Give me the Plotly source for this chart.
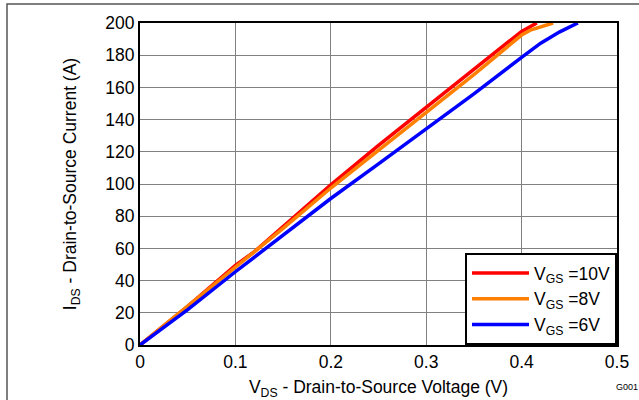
import plotly.graph_objects as go

vds_10 = [0, 0.05, 0.1, 0.12, 0.15, 0.2, 0.25, 0.3, 0.35, 0.4, 0.416]
ids_10 = [0, 24, 49.5, 58, 73.5, 99.5, 124, 147.5, 171, 194.8, 200]

vds_8 = [0, 0.05, 0.1, 0.15, 0.2, 0.25, 0.3, 0.35, 0.4, 0.41, 0.433]
ids_8 = [0, 24, 48.5, 72.5, 97.5, 121, 144.3, 168, 192.5, 195.8, 200]

vds_6 = [0, 0.05, 0.1, 0.15, 0.2, 0.25, 0.3, 0.35, 0.4, 0.42, 0.44, 0.459]
ids_6 = [0, 22, 45.5, 68.5, 91, 112.5, 134.2, 156, 178.7, 187.5, 194.5, 200]

series = [
    ("V<sub>GS</sub> =10V", vds_10, ids_10, "#ff0000"),
    ("V<sub>GS</sub> =8V", vds_8, ids_8, "#ff7f00"),
    ("V<sub>GS</sub> =6V", vds_6, ids_6, "#0000ff"),
]

x_ticks = [0, 0.1, 0.2, 0.3, 0.4, 0.5]
x_ticklabels = ["0", "0.1", "0.2", "0.3", "0.4", "0.5"]
y_ticks = [0, 20, 40, 60, 80, 100, 120, 140, 160, 180, 200]

fig = go.Figure()
for name, x, y, c in series:
    fig.add_trace(go.Scatter(x=x, y=y, mode="lines", name=name,
                             line=dict(color=c, width=3.5)))

font = "Liberation Sans, Arial, sans-serif"
fig.update_layout(
    width=639, height=400,
    margin=dict(l=140, r=22, t=23, b=55),
    paper_bgcolor="white", plot_bgcolor="white",
    font=dict(family=font, size=17.5, color="black"),
    xaxis=dict(range=[0, 0.5], tickvals=x_ticks, ticktext=x_ticklabels,
               showgrid=True, gridcolor="#808080", gridwidth=1,
               showline=True, linecolor="black", linewidth=2, mirror=True,
               ticks="", zeroline=False, tickfont=dict(size=17.5),
               automargin=False,
               title=dict(text="V<sub>DS</sub> - Drain-to-Source Voltage (V)",
                          font=dict(size=17.5))),
    yaxis=dict(range=[0, 200], tickvals=y_ticks,
               showgrid=True, gridcolor="#808080", gridwidth=1,
               showline=True, linecolor="black", linewidth=2, mirror=True,
               ticks="", zeroline=False, tickfont=dict(size=17.5),
               automargin=True,
               title=dict(text="I<sub>DS</sub> - Drain-to-Source Current (A)",
                          font=dict(size=17.5), standoff=24)),
    legend=dict(x=1, y=0, xanchor="right", yanchor="bottom",
                bgcolor="white", bordercolor="black", borderwidth=2,
                font=dict(size=17.5), tracegroupgap=0,
                itemwidth=57),
    showlegend=True,
)

fig.add_shape(type="rect", xref="paper", yref="paper",
              x0=(7 - 140) / 477, x1=(645 - 140) / 477,
              y0=(345 - 410) / 322, y1=(345 - 4) / 322,
              line=dict(color="#555555", width=1.5), layer="below")

fig.add_annotation(text="G001", xref="paper", yref="paper",
                   x=(640 - 140) / 477, y=(345 - 387) / 322,
                   xanchor="right", yanchor="middle", showarrow=False,
                   font=dict(size=9, color="black"))

fig.write_html("out.html")
